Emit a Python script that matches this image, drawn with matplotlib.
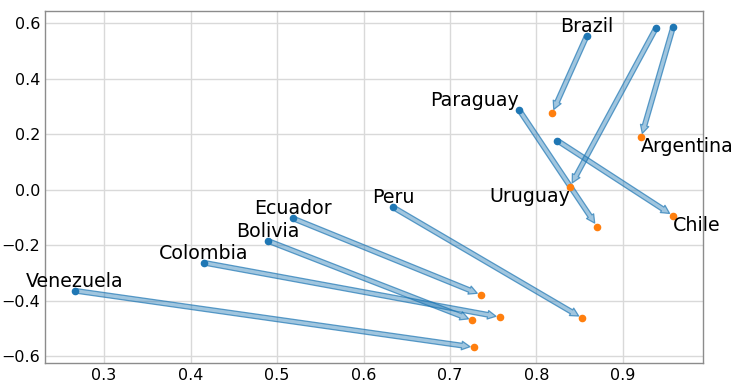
import matplotlib
matplotlib.use("Agg")
import matplotlib.pyplot as plt

countries = ["Brazil", "Uruguay", "Argentina", "Paraguay", "Chile",
             "Peru", "Ecuador", "Bolivia", "Colombia", "Venezuela"]
x_start = [0.858, 0.938, 0.958, 0.780, 0.824, 0.634, 0.518, 0.489, 0.415, 0.266]
y_start = [0.554, 0.582, 0.587, 0.288, 0.178, -0.062, -0.102, -0.183, -0.262, -0.363]
x_end = [0.818, 0.839, 0.921, 0.870, 0.958, 0.853, 0.736, 0.726, 0.758, 0.728]
y_end = [0.276, 0.012, 0.189, -0.132, -0.093, -0.462, -0.378, -0.470, -0.458, -0.567]
# where each label is attached: start point or end point, and its alignment
label_at = ["start", "end", "end", "start", "end", "start", "start", "start", "start", "start"]
label_ha = ["center", "right", "left", "right", "left", "center", "center", "center", "center", "center"]
label_va = ["bottom", "top", "top", "bottom", "top", "bottom", "bottom", "bottom", "bottom", "bottom"]

fig = plt.figure(figsize=(7.48, 3.83), dpi=100)
ax = fig.add_axes([0.0598, 0.0514, 0.8801, 0.9199])

c0 = (0.121, 0.467, 0.706)
for xs, ys, xe, ye in zip(x_start, y_start, x_end, y_end):
    ax.annotate("", xy=(xe, ye), xytext=(xs, ys),
                arrowprops=dict(arrowstyle="simple,head_length=0.6,head_width=0.62,tail_width=0.33",
                                fc=c0 + (0.42,), ec=c0 + (0.7,), lw=0.9,
                                shrinkA=0, shrinkB=3),
                zorder=2)

ax.scatter(x_start, y_start, s=20, color="C0", zorder=3)
ax.scatter(x_end, y_end, s=20, color="C1", zorder=3)

for name, at, ha, va, xs, ys, xe, ye in zip(countries, label_at, label_ha, label_va,
                                            x_start, y_start, x_end, y_end):
    px, py = (xs, ys) if at == "start" else (xe, ye)
    ax.text(px, py, name, ha=ha, va=va, fontsize=13.7, zorder=4)

ax.set_xticks([0.3, 0.4, 0.5, 0.6, 0.7, 0.8, 0.9])
ax.set_yticks([-0.6, -0.4, -0.2, 0.0, 0.2, 0.4, 0.6])
ax.set_xticklabels(["0.3", "0.4", "0.5", "0.6", "0.7", "0.8", "0.9"])
ax.set_yticklabels(["\u22120.6", "\u22120.4", "\u22120.2", "0.0", "0.2", "0.4", "0.6"])
ax.tick_params(length=0, pad=3.2, labelsize=11.5)
ax.grid(True, color="#d9d9d9", linewidth=1)
ax.set_axisbelow(True)
for sp in ax.spines.values():
    sp.set_color("#8c8c8c")
    sp.set_linewidth(1)

fig.savefig("out.png", dpi=100)
